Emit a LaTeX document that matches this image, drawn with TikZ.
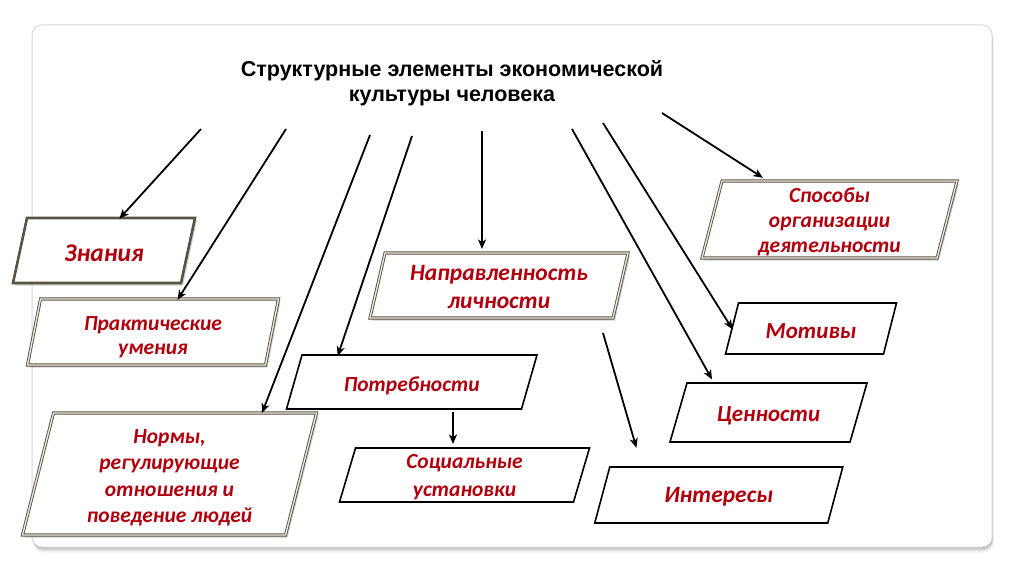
\documentclass[tikz,border=0pt]{standalone}
\usepackage{fontspec}
\setmainfont{Carlito}
\newfontfamily\titlefont{Liberation Sans}
\usetikzlibrary{arrows.meta,calc}

\definecolor{txtred}{RGB}{176,0,14}
\definecolor{frameg}{RGB}{218,218,218}
\definecolor{dborder}{RGB}{88,84,68}
\definecolor{dinner}{RGB}{236,233,222}

\newcommand{\fsz}[2]{\fontsize{#1}{#2}\selectfont}
% name, cx, cy, w, h, skew, path style, node options, text
\newcommand{\pbox}[9]{%
  \path[#7] ({#2-#4/2+#6/2},{#3-#5/2}) -- ({#2+#4/2+#6/2},{#3-#5/2}) --
            ({#2+#4/2-#6/2},{#3+#5/2}) -- ({#2-#4/2-#6/2},{#3+#5/2}) -- cycle;
  \node[boxframe, minimum width=#4, minimum height=#5] (#1) at (#2,#3) {};
  \node[boxtext, #8] (#1-t) at (#2,#3) {#9};
}

\tikzset{
  boxframe/.style={inner sep=0pt, outer sep=0pt},
  boxtext/.style={text=txtred, align=center, inner sep=0pt},
  dblbox/.style={draw=dborder, line width=0.9pt, double=dinner, double distance=1.3pt, fill=white,
     preaction={fill=black, opacity=0.18, transform canvas={shift={(2pt,-2.5pt)}}}},
  thickbox/.style={draw=dborder, line width=2.6pt, fill=white,
     preaction={fill=black, opacity=0.18, transform canvas={shift={(2pt,-2.5pt)}}}},
  sbox/.style={draw=black, line width=1.6pt, fill=white},
  arr/.style={draw=black, line width=1.8pt, -{Stealth[length=9.5pt,width=8pt,inset=2.5pt]}},
  bf/.style 2 args={font=\bfseries\itshape\fsz{#1}{#2}},
}

\begin{document}
\begin{tikzpicture}[x=1pt,y=-1pt]
\useasboundingbox (0,0) rectangle (1024,575);
\fill[white] (0,0) rectangle (1024,575);
% frame with soft shadow
\foreach \i/\o in {1/0.08,2/0.07,3/0.06,4/0.05,5/0.035,6/0.02}
  \fill[black, opacity=\o, rounded corners=10pt] ({32+0.3*\i},{25+\i}) rectangle ({992+0.3*\i},{547+\i});
\draw[frameg, line width=1pt, fill=white, rounded corners=10pt] (32,25) rectangle (992,547);

\node[font=\titlefont\bfseries\fsz{21.5}{25}, align=center] (title) at (452,83)
  {Структурные элементы экономической\\культуры человека};

\pbox{zn}{104}{250.5}{168}{65}{14}{thickbox}{bf={25.5}{28}, yshift=-3pt}{Знания}
\pbox{pu}{153}{332}{238}{66}{13}{dblbox}{bf={21.5}{24}, yshift=-5pt}{Практические\\умения}
\pbox{nr}{169.5}{474}{263}{122}{31}{dblbox}{bf={21.5}{26.5}, yshift=-4pt}{Нормы,\\регулирующие\\отношения и\\поведение людей}
\pbox{nap}{499}{285.5}{243}{65}{15}{dblbox}{bf={23.5}{28}, yshift=-1pt}{Направленность\\личности}
\pbox{sp}{829.5}{219.5}{235}{77}{20}{dblbox}{bf={21.5}{25}, yshift=-2pt}{Способы\\организации\\деятельности}
\pbox{pt}{411.75}{382}{235}{54}{15.5}{sbox}{bf={21.5}{25}, yshift=-4pt}{Потребности}
\pbox{sc}{464.5}{475}{234}{54}{16}{sbox}{bf={21.5}{28}, yshift=-2pt}{Социальные\\установки}
\pbox{mt}{811}{328.5}{158}{51}{13}{sbox}{bf={23}{27}, yshift=-3pt}{Мотивы}
\pbox{cn}{768.5}{412.5}{180}{59}{17}{sbox}{bf={23}{27}, yshift=-3pt}{Ценности}
\pbox{intr}{718.75}{495}{233}{56}{15}{sbox}{bf={23.5}{27}, yshift=-2pt}{Интересы}

% free start points of the connectors (under the title)
\coordinate (s1) at (201,129);
\coordinate (s2) at (286,129);
\coordinate (s3) at (370,135);
\coordinate (s4) at (412,136);
\coordinate (s5) at (482,131);
\coordinate (s6) at (572,129);
\coordinate (s7) at (603,123);
\coordinate (s8) at (662,113);
\coordinate (s9) at (603,333);

\draw[arr, shorten >=-1pt] (s1) -- (zn.north -| 120,0);
\draw[arr, shorten >=-1pt] (s2) -- (pu.north -| 178,0);
\draw[arr] (s3) -- (nr.north -| 262,0);
\draw[arr, shorten >=-1pt] (s4) -- (pt.north -| 338,0);
\draw[arr, shorten >=4pt] (s5) -- (nap.north -| 482,0);
\draw[arr, shorten >=4pt] (s6) -- (cn.north -| 714,0);
\draw[arr, shorten >=-1pt] (s7) -- (mt.west);
\draw[arr, shorten >=6pt] (s8) -- (sp.north -| 768,0);
\draw[arr, shorten >=20pt] (s9) -- (intr.north -| 642,0);
\draw[arr, shorten <=3pt, shorten >=4pt] (pt.south -| 453,0) -- (sc.north -| 453,0);
\end{tikzpicture}
\end{document}
